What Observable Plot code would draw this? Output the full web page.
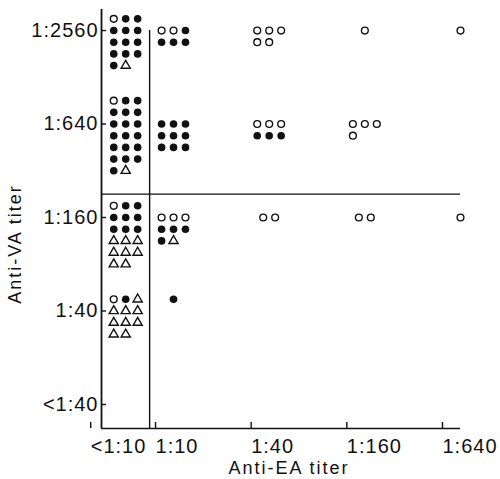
<!DOCTYPE html>
<html><head><meta charset="utf-8">
<script src="https://cdn.jsdelivr.net/npm/d3@7"></script>
<script src="https://cdn.jsdelivr.net/npm/@observablehq/plot@0.6"></script>
<style>
body{margin:0;background:#fff}
svg [aria-label="x-axis tick label"] text,
svg [aria-label="y-axis tick label"] text{font-size:20px !important;letter-spacing:1px !important;font-family:'Liberation Sans',Arial,sans-serif !important}
</style>
</head><body><div id="chart"></div>
<script>
// ---- data ----
const eaLabels = ["<1:10", "1:10", "1:40", "1:160", "1:640"];
const eaPos = [0, 1, 3, 5, 7];
const vaLabels = ["<1:40", "1:40", "1:160", "1:640", "1:2560"];
const vaPos = [0, 1, 2, 3, 4];

// one entry per cluster: anti-EA titer, anti-VA titer, symbols row by row
// o = open circle, f = filled circle, t = open triangle
const groupEA = ["<1:10", "1:10", "1:40", "1:160", "1:640",
                 "<1:10", "1:10", "1:40", "1:160",
                 "<1:10", "1:10", "1:40", "1:160", "1:640",
                 "<1:10", "1:10"];
const groupVA = ["1:2560", "1:2560", "1:2560", "1:2560", "1:2560",
                 "1:640", "1:640", "1:640", "1:640",
                 "1:160", "1:160", "1:160", "1:160", "1:160",
                 "1:40", "1:40"];
const groupSymbols = ["off|fff|fff|fff|ft", "oof|fff", "ooo|oo", "o", "o",
                      "off|fff|fff|fff|fff|fff|ft", "fff|fff|fff", "ooo|fff", "ooo|o",
                      "off|fff|fff|ttt|ttt|tt", "ooo|fff|ft", "oo", "oo", "o",
                      "oft|ttt|ttt|tt", "f"];
const cutEA = [0.5];   // divider between <1:10 and 1:10
const cutVA = [2.25];  // divider between 1:160 and 1:640

// ---- layout ----
const rowsAbove = [1, 0, 0, 0, 0, 2, 0, 0, 0, 1, 0, 0, 0, 0, 1, 1];
const colStep = 0.25, rowStep = 0.125;
const xDomain = [-0.506, 7];
const yDomain = [-0.257, 4.225];

const points = [];
groupSymbols.forEach((pat, g) => {
  const rows = pat.split("|");
  const width = d3.max(rows, r => r.length);
  const x0 = eaPos[eaLabels.indexOf(groupEA[g])];
  const y0 = vaPos[vaLabels.indexOf(groupVA[g])];
  rows.forEach((row, r) => {
    [...row].forEach((s, c) => {
      const col = width === 3 ? c - 1 : c - (row.length - 1) / 2;
      points.push({kind: s, x: x0 + col * colStep, y: y0 + (rowsAbove[g] - r) * rowStep});
    });
  });
});

const eaFmt = d => eaLabels[eaPos.indexOf(d)];
const eaPlain = eaPos.filter((p, i) => !eaLabels[i].startsWith("<"));
const eaLess = eaPos.filter((p, i) => eaLabels[i].startsWith("<"));

const ink = "#111";
const chart = Plot.plot({
  width: 500,
  height: 479,
  marginLeft: 101,
  marginRight: 40,
  marginTop: 9,
  marginBottom: 51,
  style: {fontFamily: "'Liberation Sans', Arial, sans-serif", fontSize: "18px", letterSpacing: "2px", color: ink, background: "#fff"},
  x: {domain: xDomain, label: null},
  y: {domain: yDomain, label: null},
  marks: [
    Plot.ruleX([xDomain[0]], {stroke: ink, strokeWidth: 1.8}),
    Plot.ruleY([yDomain[0]], {stroke: ink, strokeWidth: 1.6}),
    Plot.ruleX(cutEA, {y1: vaPos[vaPos.length - 1], y2: yDomain[0], stroke: ink, strokeWidth: 1.4}),
    Plot.ruleY(cutVA, {x1: xDomain[0], x2: eaPos[eaPos.length - 1], stroke: ink, strokeWidth: 1.4}),
    Plot.dot(points.filter(d => d.kind === "o"), {x: "x", y: "y", r: 3.4, fill: "white", stroke: ink, strokeWidth: 1.4}),
    Plot.dot(points.filter(d => d.kind === "f"), {x: "x", y: "y", r: 3.8, fill: ink, stroke: "none"}),
    Plot.dot(points.filter(d => d.kind === "t"), {x: "x", y: "y", symbol: "triangle", r: 3.4, fill: "white", stroke: ink, strokeWidth: 1.4}),
    Plot.axisX({ticks: eaPlain, tickFormat: eaFmt, tickSize: -6, tickPadding: 16, textAnchor: "start", dx: -18, label: null, stroke: ink, strokeWidth: 1.4}),
    Plot.axisX({ticks: eaLess, tickFormat: eaFmt, tickSize: -6, tickPadding: 16, textAnchor: "start", dx: -35, label: null, stroke: ink, strokeWidth: 1.4}),
    Plot.axisY({ticks: vaPos, tickFormat: d => vaLabels[vaPos.indexOf(d)], tickSize: -5, tickPadding: 8, label: null, stroke: ink, strokeWidth: 1.4}),
    Plot.text(["Anti-EA titer"], {frameAnchor: "bottom", textAnchor: "middle", lineAnchor: "middle", dx: 8, dy: 39.5, fontSize: 18, fill: ink}),
    Plot.text(["Anti-VA titer"], {frameAnchor: "left", textAnchor: "middle", lineAnchor: "middle", rotate: -90, dx: -86, dy: 25, fontSize: 18, fill: ink})
  ]
});
document.getElementById("chart").appendChild(chart);
</script>
</body></html>
